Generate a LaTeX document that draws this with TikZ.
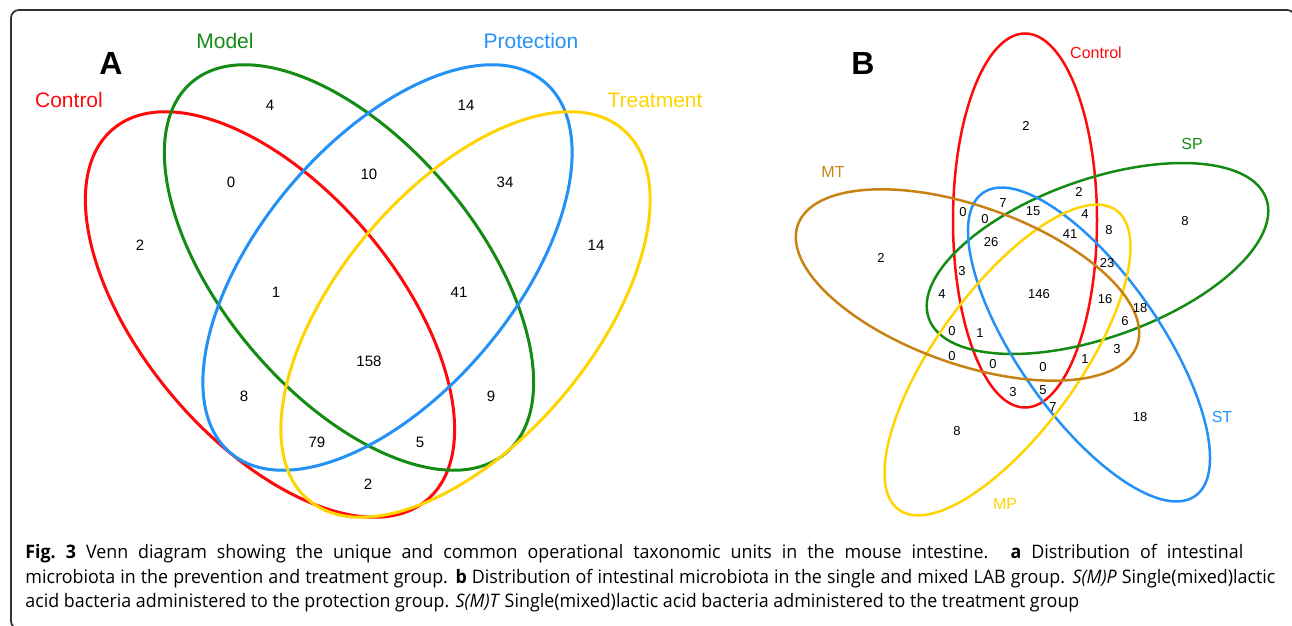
\documentclass[tikz,border=0pt]{standalone}
\usepackage{fontspec}
\setmainfont{Liberation Sans}
\newfontfamily\capfont{Open Sans}[FakeStretch=0.96]
\usetikzlibrary{positioning}
\definecolor{vred}{RGB}{255,10,10}
\definecolor{vgreen}{RGB}{20,140,20}
\definecolor{vblue}{RGB}{35,145,245}
\definecolor{vyellow}{RGB}{255,212,0}
\definecolor{vbrown}{RGB}{200,130,20}
\begin{document}
\begin{tikzpicture}[x=0.5pt,y=-0.5pt] % 1 unit = 1 px, y goes down
\tikzstyle{setA} = [line width=1.5pt] % outlines, panel A
\tikzstyle{setB} = [line width=1.25pt] % outlines, panel B
\tikzstyle{numA} = [inner sep=0pt, font=\fontsize{7.5}{9}\selectfont] % counts, panel A
\tikzstyle{numB} = [inner sep=0pt, font=\fontsize{6.5}{8}\selectfont] % counts, panel B
\tikzstyle{nameA} = [inner sep=0pt, font=\fontsize{10.5}{12}\selectfont] % set names, panel A
\tikzstyle{nameB} = [inner sep=0pt, font=\fontsize{8}{10}\selectfont]
\tikzstyle{panel} = [inner sep=0pt, font=\fontsize{16}{18}\selectfont\bfseries] % A / B
\tikzstyle{capline} = [inner sep=0pt, anchor=base west, font=\capfont\fontsize{9.3}{12}\selectfont]
\useasboundingbox (0,0) rectangle (1292,626);
\draw[black!80, line width=0.9pt, rounded corners=4pt] (11,10) rectangle (1295,629); % frame
% panel A
\draw[setA, vred, rotate around={-49.7:(270,314.5)}] (270,314.5) ellipse (243 and 127);
\draw[setA, vgreen, rotate around={-49.7:(349,267.5)}] (349,267.5) ellipse (243 and 127);
\draw[setA, vblue, rotate around={49.7:(387.5,267.5)}] (387.5,267.5) ellipse (243 and 127);
\draw[setA, vyellow, rotate around={49.7:(465.5,314.5)}] (465.5,314.5) ellipse (243 and 127);
\node[panel] (pA) at (111,63) {A};
\node[nameA, vgreen] (model) at (225,41) {Model};
\node[nameA, vblue] (prot) at (531,41) {Protection};
\node[nameA, vred] (ctrlA) at (69,100) {Control};
\node[nameA, vyellow] (treat) at (655,100) {Treatment};
\foreach \x/\y/\t [count=\i] in {270/105/4, 466/105/14, 231/182/0, 369/174/10, 505/182/34,
    140/245/2, 596/245/14, 276/292/1, 459/292/41, 369/361/158, 244/396/8, 491/396/9,
    317/442/79, 420/442/5, 368/484/2}
  \node[numA] (a\i) at (\x,\y) {\t};
% panel B
\draw[setB, vred, rotate around={90:(1025,220.5)}] (1025,220.5) ellipse (187 and 72);
\draw[setB, vgreen, rotate around={19.5:(1097.5,258.5)}] (1097.5,258.5) ellipse (179 and 79);
\draw[setB, vblue, rotate around={-55:(1089,344.5)}] (1089,344.5) ellipse (185 and 71);
\draw[setB, vyellow, rotate around={54:(1007.5,360)}] (1007.5,360) ellipse (185 and 71);
\draw[setB, vbrown, rotate around={-19.5:(967.5,285)}] (967.5,285) ellipse (180 and 79);
\node[panel] (pB) at (863,63) {B};
\node[nameB, vred] (ctrlB) at (1096,53) {Control};
\node[nameB, vgreen] (sp) at (1192,144) {SP};
\node[nameB, vbrown] (mt) at (833,172) {MT};
\node[nameB, vblue] (st) at (1222,417) {ST};
\node[nameB, vyellow] (mp) at (1005,504) {MP};
\foreach \x/\y/\t [count=\i] in {1026/126/2, 1079/192/2, 1185/221/8, 1003/203/7, 1033/211/15,
    963/212/0, 985/219/0, 1085/214/4, 1070/234/41, 1109/230/8, 991/242/26, 881/258/2,
    1107/263/23, 962/271/3, 942/294/4, 1039/294/146, 1105/299/16, 1140/308/18, 1125/321/6,
    952/331/0, 980/333/1, 1117/349/3, 952/356/0, 993/364/0, 1043/367/0, 1085/359/1,
    1013/392/3, 1043/390/5, 1053/407/7, 1140/417/18, 957/431/8}
  \node[numB] (b\i) at (\x,\y) {\t};
% caption
\node[capline] (cap1) at (25,558) {\makebox[609pt][s]{\textbf{Fig.~3} Venn diagram showing the unique and common operational taxonomic units in the mouse intestine. \textbf{a} Distribution of intestinal}};
\node[capline] (cap2) at (25,583) {\makebox[625pt][s]{microbiota in the prevention and treatment group. \textbf{b} Distribution of intestinal microbiota in the single and mixed LAB group. \textit{S(M)P} Single(mixed)lactic}};
\node[capline] (cap3) at (25,607) {acid bacteria administered to the protection group. \textit{S(M)T} Single(mixed)lactic acid bacteria administered to the treatment group};
\end{tikzpicture}
\end{document}
